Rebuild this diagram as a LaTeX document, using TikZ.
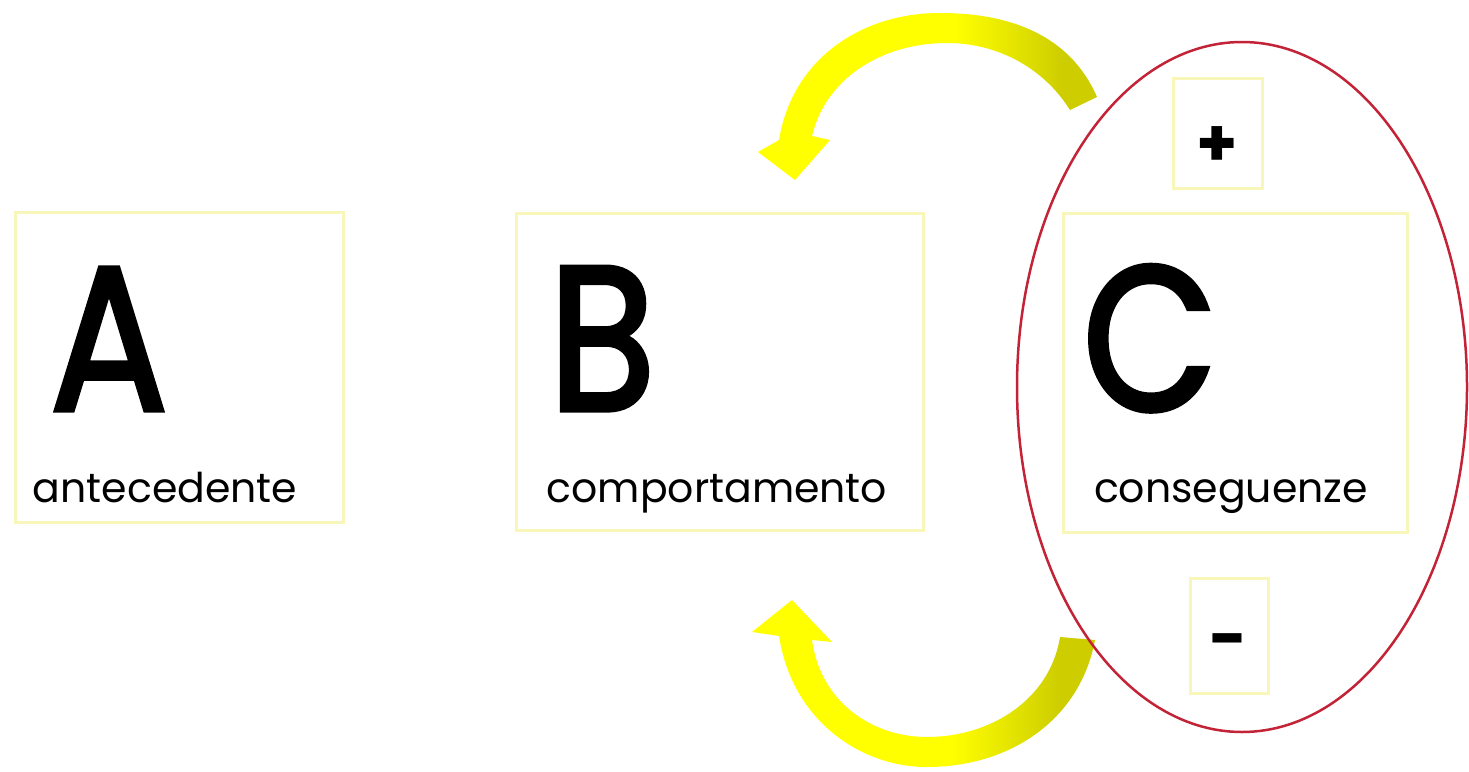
\documentclass[tikz,border=0pt]{standalone}
\usepackage{fontspec}
\setmainfont{Poppins}
\newfontfamily\letterfont[FakeBold=2.5]{Poppins}
\definecolor{boxline}{RGB}{248,246,185}
\definecolor{ellred}{RGB}{195,35,55}
\definecolor{ayellow}{RGB}{255,255,0}
\definecolor{aolive}{RGB}{205,205,0}
\pgfdeclarehorizontalshading{arrowshade}{100bp}{color(0bp)=(ayellow); color(54bp)=(ayellow); color(70bp)=(aolive); color(100bp)=(aolive)}
\tikzset{
  box/.style={draw=boxline, line width=3pt, inner sep=0pt},
  bigletter/.style={font=\fontsize{205}{205}\letterfont, inner sep=0pt, anchor=base, xscale=0.85},
  lbl/.style={font=\fontsize{41}{41}\selectfont, inner sep=0pt, anchor=base},
  sign/.style={font=\fontsize{66}{66}\selectfont\bfseries, inner sep=0pt},
  yarrow/.style={shading=arrowshade, draw=none}
}
\begin{document}
\begin{tikzpicture}[x=1pt,y=-1pt]
\useasboundingbox (0,0) rectangle (1469,771);
% boxes
\node[box, minimum width=328pt, minimum height=310pt] (boxA) at (179,367) {};
\node[box, minimum width=407pt, minimum height=317pt] (boxB) at (719.5,371.5) {};
\node[box, minimum width=344pt, minimum height=319pt] (boxC) at (1235,372.5) {};
\node[box, minimum width=89pt, minimum height=110pt] (boxP) at (1217.5,133) {};
\node[box, minimum width=78pt, minimum height=115pt] (boxM) at (1229,635.5) {};
% letters
\node[bigletter] (A) at (109,410) {A};
\node[bigletter] (B) at (602,410) {B};
\node[bigletter] (C) at (1150,410) {C};
\node[lbl] (la) at (165,502) {antecedente};
\node[lbl] (lb) at (717,502) {comportamento};
\node[lbl] (lc) at (1231,502) {conseguenze};
\node[sign] (plus) at (1217,147) {+};
\node[sign] (minus) at (1229,648) {-};
% arrows
\shade[yarrow] (1097,97) .. controls (1070,35) and (1010,13) .. (940,13)
  .. controls (860,13) and (792,60) .. (779,140) -- (758,152) -- (795,180) -- (830,140) -- (812,136)
  .. controls (825,80) and (880,43) .. (947,43)
  .. controls (1000,43) and (1045,70) .. (1070,110) -- cycle;
\shade[yarrow] (779,636) .. controls (792,720) and (860,767) .. (927,767)
  .. controls (1010,767) and (1080,720) .. (1095,640) -- (1060,637)
  .. controls (1050,700) and (990,737) .. (927,737)
  .. controls (870,737) and (820,700) .. (812,640) -- (832,642) -- (792,600) -- (752,632) -- cycle;
% ellipse
\draw[ellred, line width=2.5pt] (1242,387) ellipse [x radius=225, y radius=345];
\end{tikzpicture}
\end{document}
